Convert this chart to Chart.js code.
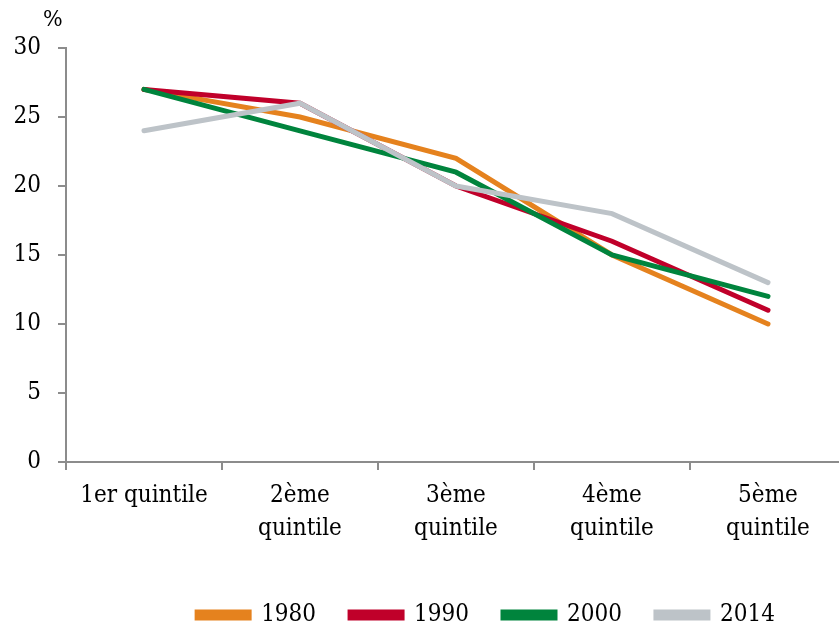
<!DOCTYPE html>
<html>
<head>
<meta charset="utf-8">
<script src="https://cdn.jsdelivr.net/npm/chart.js@4"></script>
<style>
  html, body { margin: 0; padding: 0; background: #fff; overflow: hidden; }
  #wrap { position: relative; width: 846px; height: 628px; }
</style>
</head>
<body>
<div id="wrap"><canvas id="quintChart"></canvas></div>
<script>
// data
const categories = ["1er quintile", ["2ème", "quintile"], ["3ème", "quintile"], ["4ème", "quintile"], ["5ème", "quintile"]];
const yearLabels = ["1980", "1990", "2000", "2014"];
const s1980 = [27, 25, 22, 15, 10];
const s1990 = [27, 26, 20, 16, 11];
const s2000 = [27, 24, 21, 15, 12];
const s2014 = [24, 26, 20, 18, 13];
const colors = ["#e5821e", "#c0002a", "#00843d", "#bdc3c8"];

const FONT = "'DejaVu Serif Condensed', 'DejaVu Serif', serif";

// "%" above the y axis
const unitLabel = {
  id: "unitLabel",
  afterDraw(chart) {
    const c = chart.ctx;
    c.save();
    c.font = "23px " + FONT;
    c.fillStyle = "#000";
    c.textAlign = "left";
    c.textBaseline = "middle";
    c.fillText("%", 43, 20);
    c.restore();
  }
};

// legend sits a bit right of centre and low in the original
const legendShift = {
  id: "legendShift",
  afterLayout(chart) {
    const lg = chart.legend;
    lg.left += 63;
    lg.right += 63;
    lg.top += 9;
    lg.bottom += 9;
  }
};

const ctx = document.getElementById("quintChart");

new Chart(ctx, {
  type: "line",
  data: {
    labels: categories,
    datasets: [s1980, s1990, s2000, s2014].map((d, i) => ({
      label: yearLabels[i],
      data: d,
      order: 4 - i, // 2014 drawn on top
      borderColor: colors[i],
      backgroundColor: colors[i],
      borderWidth: 5,
      pointRadius: 0,
      tension: 0,
      borderCapStyle: "round",
      fill: false
    }))
  },
  options: {
    responsive: true,
    maintainAspectRatio: false,
    animation: false,
    layout: { padding: { top: 48, left: 0, right: 0, bottom: 0 } },
    plugins: {
      legend: {
        position: "bottom",
        labels: {
          font: { family: FONT, size: 24 },
          color: "#000",
          boxWidth: 52,
          boxHeight: 6,
          padding: 34,
          sort: (a, b) => a.datasetIndex - b.datasetIndex
        }
      },
      tooltip: { enabled: false }
    },
    scales: {
      x: {
        offset: true,
        border: { color: "#8c8c8c", width: 2 },
        grid: { display: true, offset: true, drawOnChartArea: false, tickLength: 8, color: "#8c8c8c", lineWidth: 2 },
        ticks: { font: { family: FONT, size: 24, lineHeight: 1.35 }, color: "#000", maxRotation: 0, padding: 10 },
        afterFit: s => { s.height = 98; }
      },
      y: {
        min: 0,
        max: 30,
        border: { color: "#8c8c8c", width: 2 },
        grid: { display: true, drawOnChartArea: false, tickLength: 8, color: "#8c8c8c", lineWidth: 2 },
        ticks: { stepSize: 5, font: { family: FONT, size: 24 }, color: "#000", padding: 17 },
        afterFit: s => { s.width = 66; }
      }
    }
  },
  plugins: [unitLabel, legendShift]
});
</script>
</body>
</html>
